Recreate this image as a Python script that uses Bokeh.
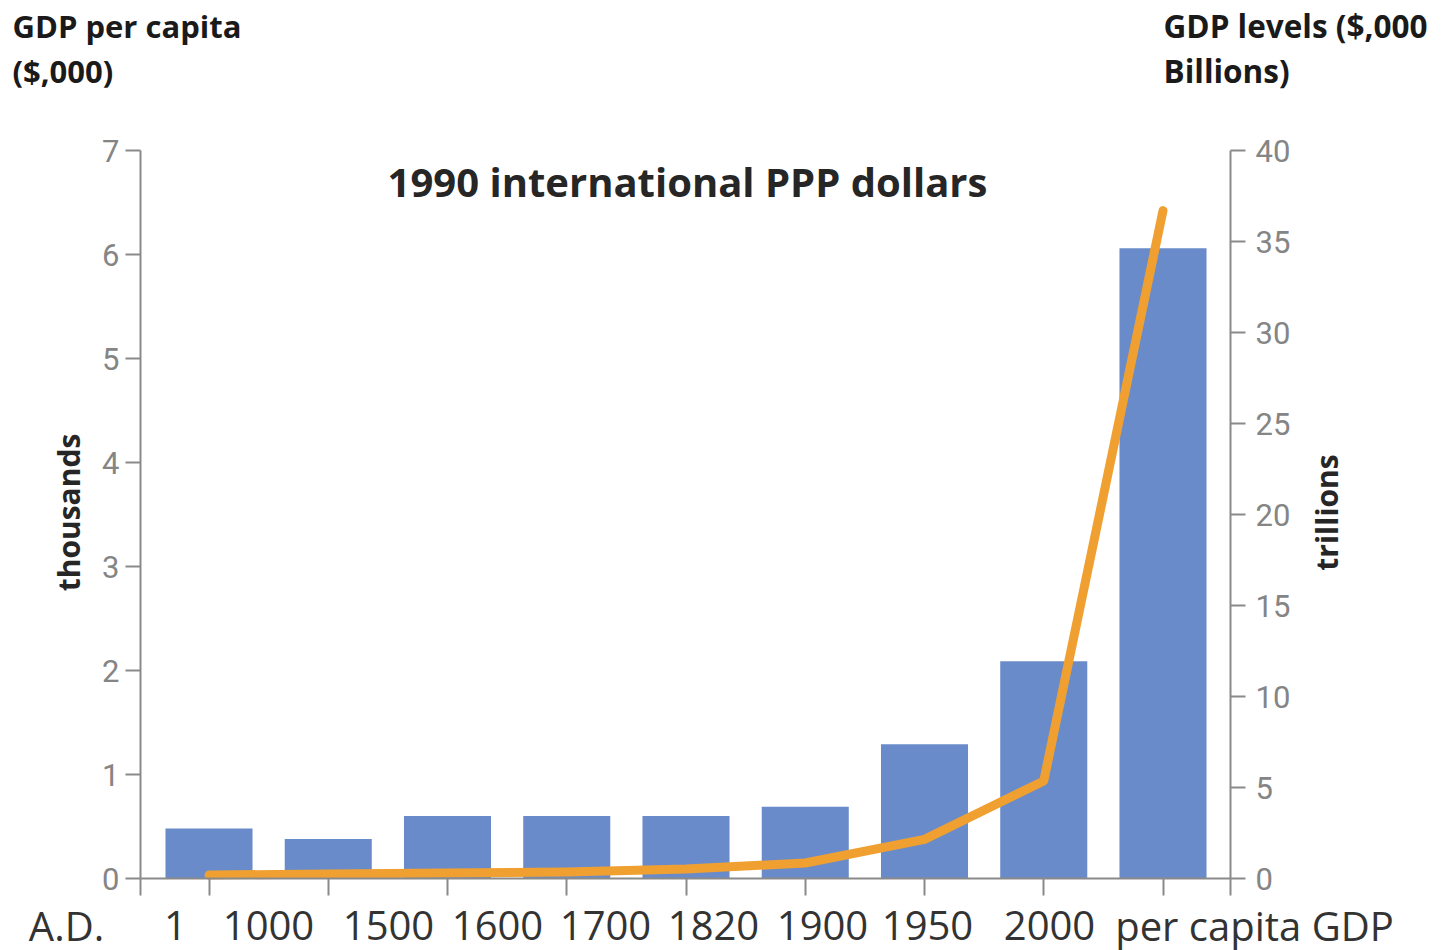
import numpy as np
from bokeh.plotting import figure
from bokeh.models import Range1d, LinearAxis, FixedTicker, Label, ColumnDataSource, Grid
from bokeh.embed import file_html
from bokeh.resources import INLINE

# ---- data ----
periods = ["1", "1000", "1500", "1600", "1700", "1820", "1900", "1950", "2000"]
gdp_per_capita = [0.48, 0.38, 0.60, 0.60, 0.60, 0.69, 1.29, 2.09, 6.06]   # thousands
gdp_levels = [0.19, 0.25, 0.30, 0.36, 0.52, 0.85, 2.15, 5.36, 36.7]       # trillions
x_labels = ["A.D.", "1", "1000", "1500", "1600", "1700", "1820", "1900", "1950", "2000", "per capita GDP"]
left_ticks = [0, 1, 2, 3, 4, 5, 6, 7]
right_ticks = [0, 5, 10, 15, 20, 25, 30, 35, 40]

# ---- layout constants (canvas pixels) ----
W, H = 1446, 950
FRAME_L, FRAME_R = 140, 1230
FRAME_T, FRAME_B = 150, 878
C0, STEP = 208.5, 119.25
ppu = (FRAME_B - FRAME_T) / 7.0
ppu_r = (FRAME_B - FRAME_T) / 40.0
TXT_DY = 13  # baseline correction for label rendering

def xd(px):
    return (px - C0) / STEP

def yd(py):
    return (FRAME_B - py) / ppu

def rd(py):
    return (FRAME_B - py) / ppu_r

x_start, x_end = xd(FRAME_L), xd(FRAME_R)

pos = list(range(len(periods)))
src = ColumnDataSource(dict(x=pos, pc=gdp_per_capita, lv=gdp_levels))

p = figure(width=W, height=H, output_backend="svg", toolbar_location=None,
           x_range=Range1d(xd(0), xd(W)), y_range=Range1d(yd(H), yd(0)),
           x_axis_location=None, y_axis_location=None,
           min_border=0, min_border_left=0, min_border_right=0,
           min_border_top=0, min_border_bottom=0)
p.extra_y_ranges = {"right": Range1d(rd(H), rd(0))}
p.outline_line_color = None
p.background_fill_color = "white"
p.border_fill_color = "white"
for g in p.select(type=Grid):
    g.visible = False

AX = "#8a8a8a"
TICKC = "#858585"

p.vbar(x="x", top="pc", width=0.73, source=src, fill_color="#6a8bc9", line_color=None)
p.line(x="x", y="lv", source=src, y_range_name="right", line_color="#f0a030",
       line_width=9, line_cap="round", line_join="round")

def style(ax, out):
    ax.major_tick_out = out
    ax.major_tick_in = 0
    ax.minor_tick_line_color = None
    ax.axis_line_color = AX
    ax.axis_line_width = 2
    ax.major_tick_line_color = AX
    ax.major_tick_line_width = 2
    ax.major_label_text_font = "Roboto"
    ax.major_label_text_font_size = "31px"
    ax.major_label_text_color = TICKC

# x axis at y = 0 (ticks only; labels are the offset text row below)
xa = LinearAxis(fixed_location=0, bounds=(x_start, x_end),
                ticker=FixedTicker(ticks=[x_start] + pos + [x_end]))
style(xa, 17)
xa.major_label_text_color = None
p.add_layout(xa, "below")

# left axis
ya = LinearAxis(fixed_location=x_start, bounds=(0, 7), ticker=FixedTicker(ticks=left_ticks))
style(ya, 15)
ya.major_label_standoff = 6
p.add_layout(ya, "left")

# right axis
ra = LinearAxis(y_range_name="right", fixed_location=x_end, bounds=(0, 40),
                ticker=FixedTicker(ticks=right_ticks))
style(ra, 15)
ra.major_label_standoff = 10
p.add_layout(ra, "right")

# bottom category labels (offset text row as in the original)
label_px = [66, 175, 268, 388, 497, 605, 713, 822, 927, 1049, 1254]
for t, px in zip(x_labels, label_px):
    p.add_layout(Label(x=xd(px), y=yd(938 - TXT_DY), text=t, text_align="center",
                       text_baseline="alphabetic", text_font="Open Sans",
                       text_font_size="40px", text_color="#333333"))

def bold(t, px, py, size, align="left", angle=0.0, baseline="alphabetic", color="#1a1a1a", dy=TXT_DY):
    p.add_layout(Label(x=xd(px), y=yd(py - dy), text=t, text_align=align, angle=angle,
                       text_baseline=baseline, text_font="Open Sans",
                       text_font_style="bold", text_font_size=size, text_color=color))

bold("GDP per capita", 12, 38, "31px")
bold("($,000)", 12, 83, "31px")
bold("GDP levels ($,000", 1163, 38, "31.5px")
bold("Billions)", 1163, 83, "31.5px")
bold("1990 international PPP dollars", 687, 194, "40px", align="center", color="#262626")
bold("thousands", 68, 512, "30px", align="center", angle=np.pi / 2, baseline="middle", color="#262626", dy=0)
bold("trillions", 1326, 512, "30px", align="center", angle=np.pi / 2, baseline="middle", color="#262626", dy=0)

open("out.html", "w").write(file_html(p, INLINE))
